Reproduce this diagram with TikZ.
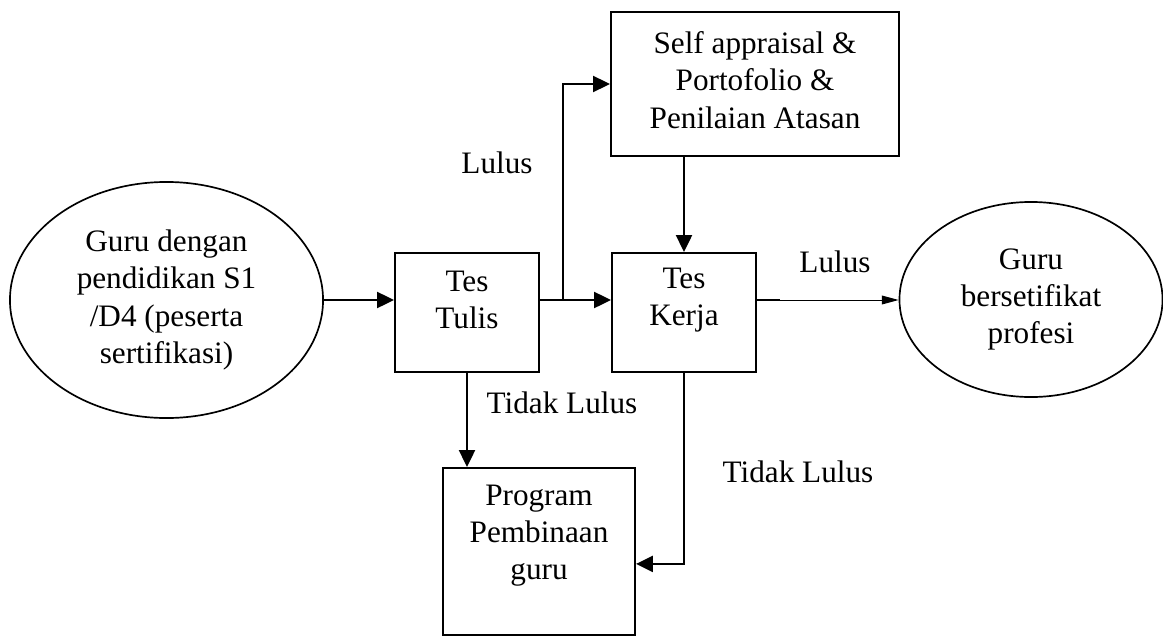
\documentclass[tikz,border=0pt]{standalone}
\usepackage{fontspec}
\setmainfont{Liberation Serif}
\usetikzlibrary{shapes.geometric, arrows.meta}

\begin{document}
\begin{tikzpicture}[x=0.025cm, y=-0.025cm,
	font=\fontsize{22.2}{26.5}\selectfont,
	kotak/.style={draw, line width=1.5pt, rectangle},
	elips/.style={draw, line width=1.2pt, ellipse, align=center, inner sep=0pt},
	teks/.style={align=center},
	panah/.style={line width=1.5pt, -{Triangle[length=0.42cm, width=0.4cm]}},
	garis/.style={line width=1.5pt}]
	\useasboundingbox (0,0) rectangle (1163,637);
	% peserta dan hasil
	\node[elips, minimum width=7.825cm, minimum height=5.9cm] (guru) at (166.5,300) {Guru dengan\\pendidikan S1\\/D4 (peserta\\sertifikasi)};
	\node[elips, minimum width=6.575cm, minimum height=4.875cm] (sert) at (1031,299.5) {Guru\\bersetifikat\\profesi};
	% tahapan
	\node[kotak, minimum width=3.6cm, minimum height=2.975cm, label={[teks, yshift=0.31cm]center:Tes\\Tulis}] (tulis) at (467,312.5) {};
	\node[kotak, minimum width=3.6cm, minimum height=2.975cm, label={[teks, yshift=0.31cm]center:Tes\\Kerja}] (kerja) at (684,312.5) {};
	\node[kotak, minimum width=7.2cm, minimum height=3.6cm, label={[teks, yshift=0.1cm]center:Self appraisal \&\\Portofolio \&\\Penilaian Atasan}] (self) at (755,84) {};
	\node[kotak, minimum width=4.8cm, minimum height=4.175cm, label={[teks, yshift=0.4cm]center:Program\\Pembinaan\\guru}] (prog) at (539,551.5) {};
	% keterangan
	\node (lulus1) at (497,163) {Lulus};
	\node (lulus2) at (835,262) {Lulus};
	\node (tidak1) at (562,403) {Tidak Lulus};
	\node (tidak2) at (798,472) {Tidak Lulus};
	% alur
	\coordinate (cabang) at (563,300);
	\draw[panah] (guru.east) -- (guru.east -| tulis.west);
	\draw[panah] (guru.east -| tulis.east) -- (guru.east -| kerja.west);
	\draw[panah] (cabang) |- (self.west);
	\draw[panah] (self.south -| kerja.north) -- (kerja.north);
	\draw[garis] (guru.east -| kerja.east) -- ++(23,0);
	\draw[line width=0.7pt, -{Triangle[length=0.42cm, width=0.22cm]}] (guru.east -| kerja.east) -- (guru.east -| sert.west);
	\draw[panah] (tulis.south) -- (tulis.south |- prog.north);
	\draw[panah] (kerja.south) |- ([yshift=-0.31cm]prog.east);
\end{tikzpicture}
\end{document}
